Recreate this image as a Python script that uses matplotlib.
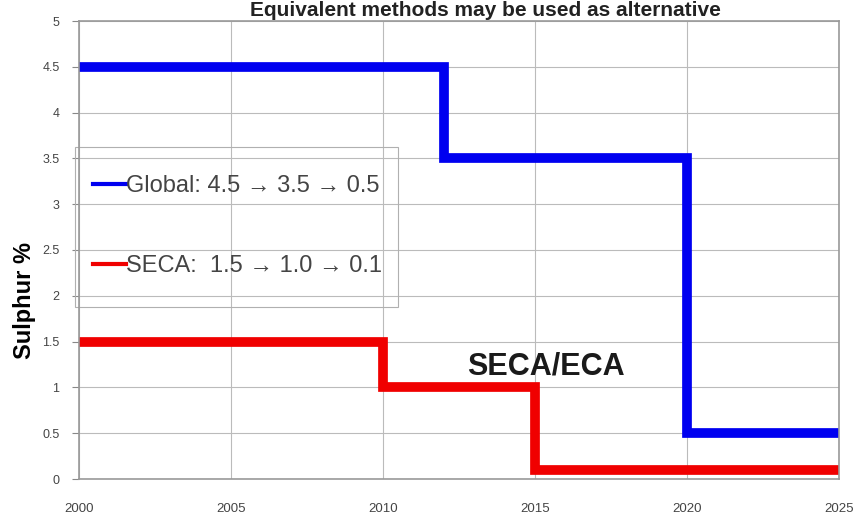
import matplotlib
matplotlib.use("Agg")
import matplotlib.pyplot as plt
from matplotlib.patches import Rectangle

# Data
global_years = [2000, 2012, 2020, 2025]
global_sulphur = [4.5, 3.5, 0.5, 0.5]
seca_years = [2000, 2010, 2015, 2025]
seca_sulphur = [1.5, 1.0, 0.1, 0.1]
x_ticks = [2000, 2005, 2010, 2015, 2020, 2025]
y_ticks = [0, 0.5, 1, 1.5, 2, 2.5, 3, 3.5, 4, 4.5, 5]
y_tick_labels = ["0", "0.5", "1", "1.5", "2", "2.5", "3", "3.5", "4", "4.5", "5"]

plt.rcParams['font.family'] = ['Liberation Sans', 'DejaVu Sans']

fig = plt.figure(figsize=(8.59, 5.15), dpi=100)
ax = fig.add_axes([79/859, 1 - 479/515, (839-79)/859, (479-21)/515])

ax.step(global_years, global_sulphur, where='post', color='#0000f0', lw=7,
        label='Global: 4.5 → 3.5 → 0.5', solid_joinstyle='miter')
ax.step(seca_years, seca_sulphur, where='post', color='#f00000', lw=7,
        label='SECA:  1.5 → 1.0 → 0.1', solid_joinstyle='miter')

ax.set_xlim(2000, 2025)
ax.set_ylim(0, 5)
ax.set_xticks(x_ticks)
ax.set_yticks(y_ticks)
ax.set_yticklabels(y_tick_labels)
ax.tick_params(axis='y', labelsize=9, colors='#444444', length=5, pad=9, color='#888888')
ax.tick_params(axis='x', labelsize=9.5, colors='#444444', length=0, pad=17)
ax.grid(True, color='#bbbbbb', lw=0.8)
ax.set_axisbelow(True)
for s in ax.spines.values():
    s.set_color('#999999')
    s.set_linewidth(1.2)

ax.set_ylabel('Sulphur %', fontsize=17, fontweight='bold')
ax.yaxis.set_label_coords(-0.056, 0.39)

fig.text(485/859, 1 - 1/515, 'Equivalent methods may be used as alternative',
         ha='center', va='top', fontsize=15, fontweight='bold', color='#222222')

ax.text(2015.35, 1.23, 'SECA/ECA', fontsize=22, fontweight='bold', ha='center', va='center',
        color='#1a1a1a')

leg = ax.legend(loc='upper left', bbox_to_anchor=(0.0184, 0.663), fontsize=17,
                handlelength=1.4, handletextpad=0.0, labelspacing=2.45,
                borderpad=0, frameon=False, borderaxespad=0,
                labelcolor='#444444')
for h in leg.legend_handles:
    h.set_linewidth(3)

ax.add_patch(Rectangle((-0.0053, 0.3755), 0.425, 0.3494, transform=ax.transAxes,
                       facecolor='none', edgecolor='#b0b0b0', lw=0.8, clip_on=False))

fig.savefig('out.png', dpi=100)
